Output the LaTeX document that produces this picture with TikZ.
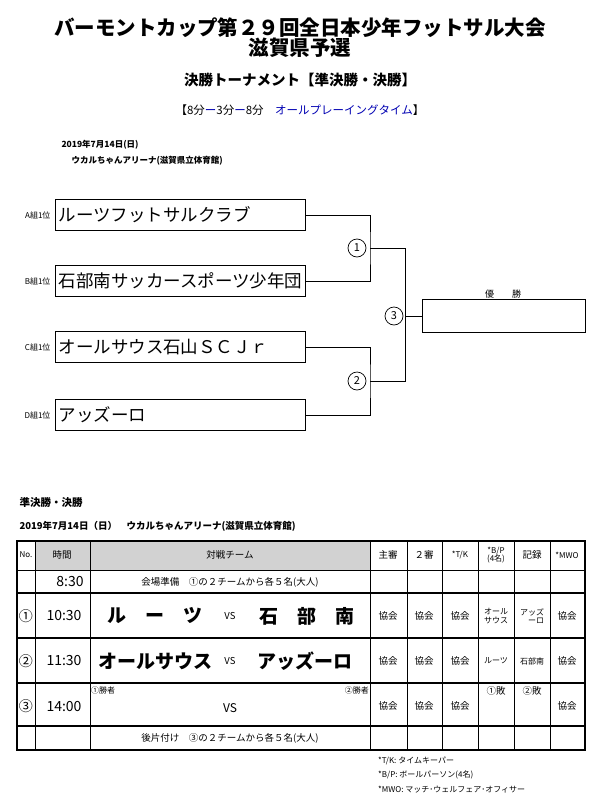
\documentclass[tikz,border=0pt]{standalone}
\usepackage{fontspec}
\setmainfont{Noto Sans CJK JP}
\begin{document}
\begin{tikzpicture}[x=1pt,y=-1pt,
  team/.style={draw,line width=1pt,minimum width=250pt,minimum height=31pt,anchor=west,inner sep=3pt,font=\fontsize{17.5}{17.5}\selectfont,text width=244pt,align=left},
  lbl/.style={font=\fontsize{8}{8}\selectfont},
  rnd/.style={circle,draw,fill=white,line width=0.7pt,minimum size=18pt,inner sep=0pt,font=\fontsize{11}{11}\selectfont},
  br/.style={line width=1pt},
  c/.style={font=\fontsize{9.5}{10}\selectfont,align=center,inner sep=0pt},
  num/.style={c,font=\fontsize{14}{14}\selectfont},
  big/.style={font=\fontsize{19}{19}\selectfont\bfseries,inner sep=0pt},
  sm/.style={c,font=\fontsize{8}{8.5}\selectfont},
  grid/.style={line width=0.6pt}]
\useasboundingbox (0,0) rectangle (600,809);
% header
\node[font=\fontsize{20.5}{20.5}\selectfont\bfseries] (t1) at (300,28) {バーモントカップ第２９回全日本少年フットサル大会};
\node[font=\fontsize{20.5}{20.5}\selectfont\bfseries] (t2) at (300,48) {滋賀県予選};
\node[font=\fontsize{14.5}{14.5}\selectfont\bfseries] (t3) at (300,80) {決勝トーナメント【準決勝・決勝】};
\node[font=\fontsize{11.5}{11.5}\selectfont, text=blue!70!black] (t4) at (300,110) {\textcolor{black}{【8分}ー\textcolor{black}{3分}ー\textcolor{black}{8分}　オールプレーイングタイム\textcolor{black}{】}};
\node[font=\fontsize{8.5}{9}\selectfont\bfseries,anchor=west] (d1) at (58,145) {2019年7月14日(日)};
\node[font=\fontsize{8.5}{9}\selectfont\bfseries,anchor=west] (d2) at (68,161) {ウカルちゃんアリーナ(滋賀県立体育館)};
% teams
\node[team] (A) at (55,215) {ルーツフットサルクラブ};
\node[team] (B) at (55,281) {石部南サッカースポーツ少年団};
\node[team] (C) at (55,347) {オールサウス石山ＳＣＪｒ};
\node[team] (D) at (55,415) {アッズーロ};
\node[lbl,anchor=east] (la) at (54,215) {A組1位};
\node[lbl,anchor=east] (lb) at (54,281) {B組1位};
\node[lbl,anchor=east] (lc) at (54,347) {C組1位};
\node[lbl,anchor=east] (ld) at (54,415) {D組1位};
\coordinate (m1) at (370,248);
\coordinate (m2) at (370,381);
\coordinate (f) at (405,316);
\draw[br] (A.east) -| (m1) |- (B.east);
\draw[br] (C.east) -| (m2) |- (D.east);
\node[draw,line width=1pt,minimum width=163pt,minimum height=33pt,anchor=west] (W) at (422,316) {};
\draw[br] (m1) -| (f) |- (W.west);
\draw[br] (m2) -| (f);
\node[rnd] (r1) at (357,248) {1};
\node[rnd] (r2) at (357,381) {2};
\node[rnd] (r3) at (394,316) {3};
\node[font=\fontsize{9}{9}\selectfont] (wl) at (503,294) {優　　勝};
% table titles
\node[font=\fontsize{10.5}{10.5}\selectfont\bfseries,anchor=west] (s1) at (16,502) {準決勝・決勝};
\node[font=\fontsize{9.5}{9.5}\selectfont\bfseries,anchor=west] (s2) at (16,526) {2019年7月14日（日）　ウカルちゃんアリーナ(滋賀県立体育館)};
% table
\fill[gray!35] (17,541) rectangle (585,570);
\fill[white] (17,541) rectangle (35,570);
\fill[white] (370,541) rectangle (585,570);
\foreach \y in {570,593,638,683,726} \draw[grid] (17,\y) -- (585,\y);
\foreach \x in {35,90,370,407,442,478,514,550} \draw[grid] (\x,541) -- (\x,750);
\draw[line width=1.6pt] (17,541) rectangle (585,750);
\draw[line width=1.2pt] (17,593) -- (585,593) (17,638) -- (585,638) (17,683) -- (585,683) (17,726) -- (585,726);
% header cells
\node[sm] (h0) at (26,555) {No.};
\node[c] (h1) at (62,555) {時間};
\node[c] (h2) at (230,555) {対戦チーム};
\node[c] (h3) at (388,555) {主審};
\node[c] (h4) at (424,555) {２審};
\node[sm] (h5) at (460,555) {*T/K};
\node[sm] (h6) at (496,555) {*B/P\\(4名)};
\node[c] (h7) at (532,555) {記録};
\node[sm] (h8) at (567,555) {*MWO};
% row 8:30
\node[num] (a1) at (70,582) {8:30};
\node[c] (a2) at (230,582) {会場準備　①の２チームから各５名(大人)};
% row 1
\node[num] (b0) at (26,616) {①};
\node[num] (b1) at (64,616) {10:30};
\node[big] (b2) at (155,616) {ル　ー　ツ};
\node[c] (bv) at (230,616) {VS};
\node[big] (b3) at (307,616) {石　部　南};
\node[c] (b4) at (388,616) {協会};
\node[c] (b5) at (424,616) {協会};
\node[c] (b6) at (460,616) {協会};
\node[sm] (b7) at (496,616) {オール\\サウス};
\node[sm] (b8) at (532,616) {アッズ\\　ーロ};
\node[c] (b9) at (567,616) {協会};
% row 2
\node[num] (c0) at (26,661) {②};
\node[num] (c1) at (64,661) {11:30};
\node[big] (c2) at (155,661) {オールサウス};
\node[c] (cv) at (230,661) {VS};
\node[big] (c3) at (305,661) {アッズーロ};
\node[c] (c4) at (388,661) {協会};
\node[c] (c5) at (424,661) {協会};
\node[c] (c6) at (460,661) {協会};
\node[sm] (c7) at (496,661) {ルーツ};
\node[sm] (c8) at (532,661) {石部南};
\node[c] (c9) at (567,661) {協会};
% row 3
\node[num] (e0) at (26,706) {③};
\node[num] (e1) at (64,706) {14:00};
\node[sm,anchor=west] (e2) at (91,690) {①勝者};
\node[sm,anchor=east] (e3) at (369,690) {②勝者};
\node[c,font=\fontsize{12}{12}\selectfont] (ev) at (230,708) {VS};
\node[c] (e4) at (388,706) {協会};
\node[c] (e5) at (424,706) {協会};
\node[c] (e6) at (460,706) {協会};
\node[c] (e7) at (496,691) {①敗};
\node[c] (e8) at (532,691) {②敗};
\node[c] (e9) at (567,706) {協会};
% cleanup
\node[c] (g2) at (230,738) {後片付け　③の２チームから各５名(大人)};
% footnotes
\node[sm,anchor=west] (n1) at (378,761) {*T/K: タイムキーパー};
\node[sm,anchor=west] (n2) at (378,775) {*B/P: ボールパーソン(4名)};
\node[sm,anchor=west] (n3) at (378,790) {*MWO: マッチ･ウェルフェア･オフィサー};
\end{tikzpicture}
\end{document}
